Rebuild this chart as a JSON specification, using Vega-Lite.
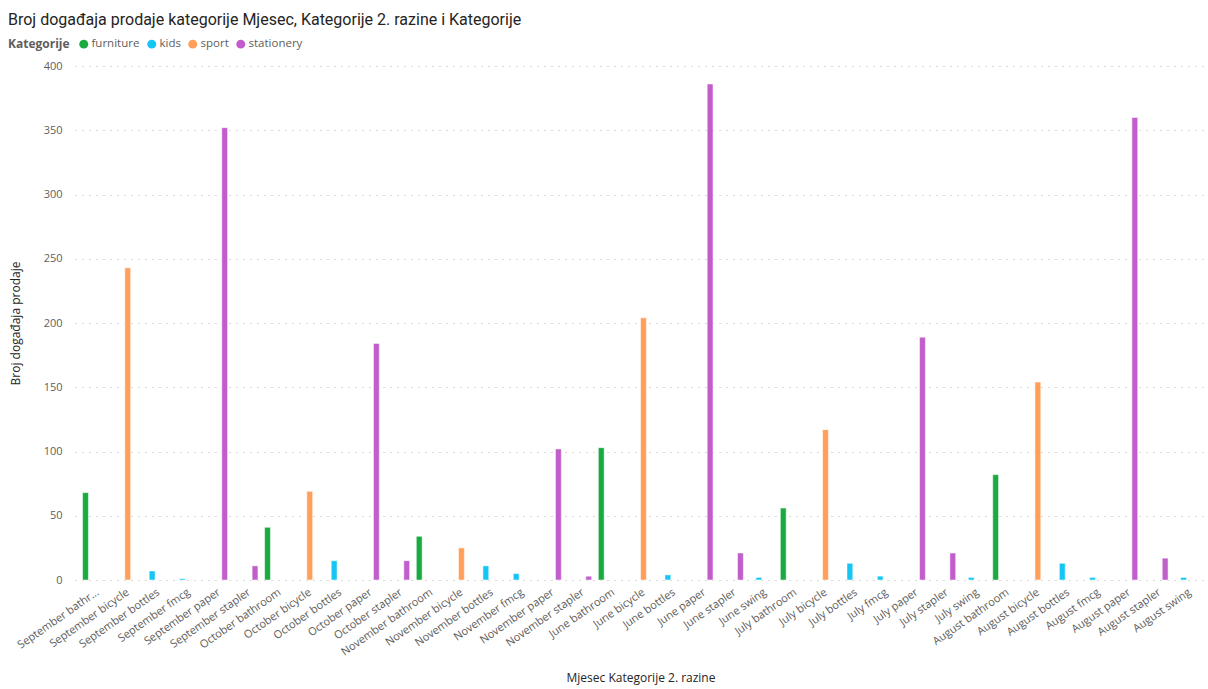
{
  "$schema": "https://vega.github.io/schema/vega-lite/v6.json",
  "autosize": {"type": "none"},
  "width": 1131,
  "height": 514,
  "padding": {"left": 75, "top": 66, "right": 2, "bottom": 109},
  "background": "white",
  "title": {
    "text": "Broj događaja prodaje kategorije Mjesec, Kategorije 2. razine i Kategorije",
    "anchor": "start",
    "frame": "group",
    "dx": -67,
    "offset": 10,
    "font": "Roboto",
    "fontSize": 16,
    "fontWeight": "normal",
    "color": "#252423"
  },
  "data": {
    "values": [
      {"mk": "September bathroom", "kat": "furniture", "n": 68},
      {"mk": "September bicycle", "kat": "sport", "n": 243},
      {"mk": "September bottles", "kat": "kids", "n": 7},
      {"mk": "September fmcg", "kat": "kids", "n": 1},
      {"mk": "September paper", "kat": "stationery", "n": 352},
      {"mk": "September stapler", "kat": "stationery", "n": 11},
      {"mk": "October bathroom", "kat": "furniture", "n": 41},
      {"mk": "October bicycle", "kat": "sport", "n": 69},
      {"mk": "October bottles", "kat": "kids", "n": 15},
      {"mk": "October paper", "kat": "stationery", "n": 184},
      {"mk": "October stapler", "kat": "stationery", "n": 15},
      {"mk": "November bathroom", "kat": "furniture", "n": 34},
      {"mk": "November bicycle", "kat": "sport", "n": 25},
      {"mk": "November bottles", "kat": "kids", "n": 11},
      {"mk": "November fmcg", "kat": "kids", "n": 5},
      {"mk": "November paper", "kat": "stationery", "n": 102},
      {"mk": "November stapler", "kat": "stationery", "n": 3},
      {"mk": "June bathroom", "kat": "furniture", "n": 103},
      {"mk": "June bicycle", "kat": "sport", "n": 204},
      {"mk": "June bottles", "kat": "kids", "n": 4},
      {"mk": "June paper", "kat": "stationery", "n": 386},
      {"mk": "June stapler", "kat": "stationery", "n": 21},
      {"mk": "June swing", "kat": "kids", "n": 2},
      {"mk": "July bathroom", "kat": "furniture", "n": 56},
      {"mk": "July bicycle", "kat": "sport", "n": 117},
      {"mk": "July bottles", "kat": "kids", "n": 13},
      {"mk": "July fmcg", "kat": "kids", "n": 3},
      {"mk": "July paper", "kat": "stationery", "n": 189},
      {"mk": "July stapler", "kat": "stationery", "n": 21},
      {"mk": "July swing", "kat": "kids", "n": 2},
      {"mk": "August bathroom", "kat": "furniture", "n": 82},
      {"mk": "August bicycle", "kat": "sport", "n": 154},
      {"mk": "August bottles", "kat": "kids", "n": 13},
      {"mk": "August fmcg", "kat": "kids", "n": 2},
      {"mk": "August paper", "kat": "stationery", "n": 360},
      {"mk": "August stapler", "kat": "stationery", "n": 17},
      {"mk": "August swing", "kat": "kids", "n": 2}
    ]
  },
  "mark": {"type": "bar", "stroke": "white", "strokeWidth": 0.5},
  "encoding": {
    "x": {
      "field": "mk",
      "type": "nominal",
      "sort": null,
      "title": "Mjesec Kategorije 2. razine",
      "scale": {"paddingInner": 0.22, "paddingOuter": 0.25},
      "axis": {
        "labelAngle": -35,
        "labelFont": "Open Sans",
        "labelFontSize": 11,
        "labelColor": "#605E5C",
        "labelPadding": 6,
        "labelLimit": 200,
        "labelExpr": "datum.label == 'September bathroom' ? 'September bathr...' : datum.label",
        "ticks": false,
        "domain": false,
        "titleFont": "Open Sans",
        "titleFontSize": 12,
        "titleFontWeight": "normal",
        "titleColor": "#252423",
        "titlePadding": 15
      }
    },
    "xOffset": {
      "field": "kat",
      "type": "nominal",
      "scale": {"domain": ["furniture", "kids", "sport", "stationery"], "paddingInner": 0.02}
    },
    "y": {
      "field": "n",
      "type": "quantitative",
      "title": "Broj događaja prodaje",
      "scale": {"domain": [0, 400]},
      "axis": {
        "values": [0, 50, 100, 150, 200, 250, 300, 350, 400],
        "labelFont": "Open Sans",
        "labelFontSize": 11,
        "labelColor": "#605E5C",
        "labelPadding": 13,
        "ticks": false,
        "domain": false,
        "grid": true,
        "gridDash": [1, 6],
        "gridColor": "#B8B6B4",
        "gridWidth": 1,
        "titleFont": "Open Sans",
        "titleFontSize": 12,
        "titleFontWeight": "normal",
        "titleColor": "#252423",
        "titlePadding": 21
      }
    },
    "color": {
      "field": "kat",
      "type": "nominal",
      "title": "Kategorije",
      "scale": {
        "domain": ["furniture", "kids", "sport", "stationery"],
        "range": ["#1AAB40", "#15C6F4", "#FF9F5A", "#C15ECB"]
      },
      "legend": {
        "orient": "none",
        "legendX": -67,
        "legendY": -28,
        "direction": "horizontal",
        "titleOrient": "left",
        "titleFont": "Open Sans",
        "titleFontSize": 12,
        "titleFontWeight": "bold",
        "titleColor": "#605E5C",
        "titlePadding": 8,
        "labelFont": "Open Sans",
        "labelFontSize": 11.5,
        "labelColor": "#605E5C",
        "labelOffset": 2,
        "columnPadding": 6,
        "symbolType": "circle",
        "symbolSize": 80,
        "symbolStrokeWidth": 0
      }
    }
  },
  "config": {"view": {"stroke": null}}
}
